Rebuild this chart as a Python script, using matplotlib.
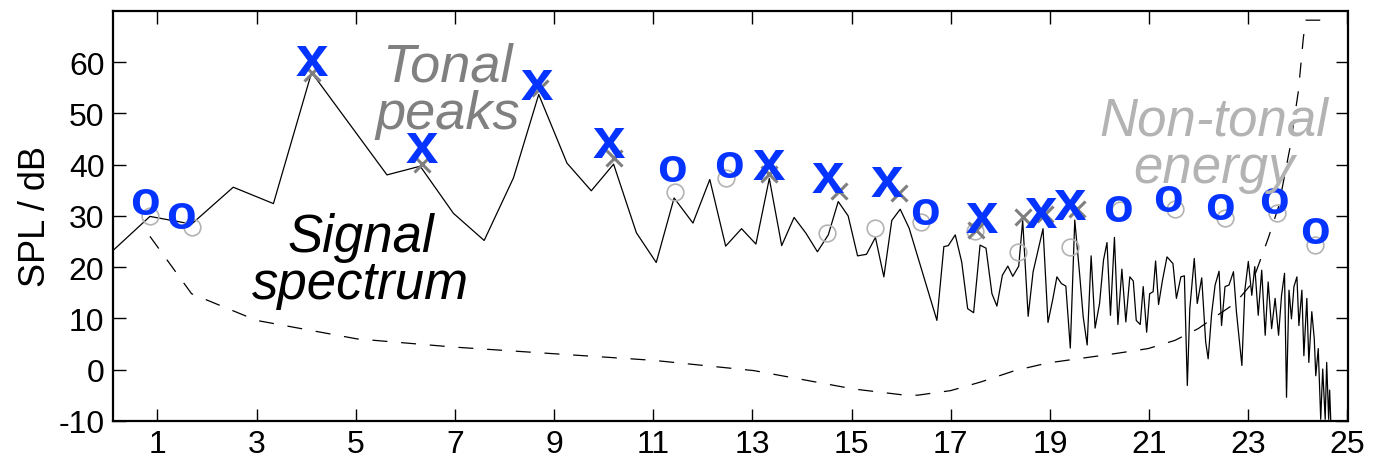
import matplotlib
matplotlib.use("Agg")
import matplotlib.pyplot as plt

plt.rcParams['font.family'] = ['Liberation Sans', 'DejaVu Sans']
plt.rcParams['axes.unicode_minus'] = False

# signal spectrum (kHz, dB)
spec_f = [0.10, 0.85, 1.69, 2.53, 3.34, 4.11, 5.63, 6.30, 6.97, 7.59, 8.18, 8.69,
          9.26, 9.75, 10.20, 10.66, 11.06, 11.42, 11.80, 12.14, 12.46, 12.78, 13.07,
          13.34, 13.59, 13.84, 14.08, 14.31, 14.53, 14.73, 14.93, 15.12, 15.30, 15.48,
          15.65, 15.81, 15.98, 16.16, 16.72, 16.86, 16.95, 17.09, 17.22, 17.34, 17.46,
          17.59, 17.71, 17.83, 17.93, 18.04, 18.15, 18.25, 18.37, 18.45, 18.56, 18.66,
          18.76, 18.86, 18.96, 19.06, 19.14, 19.23, 19.32, 19.41, 19.50, 19.60, 19.67,
          19.75, 19.83, 19.91, 20.00, 20.08, 20.15, 20.22, 20.30, 20.37, 20.45, 20.53,
          20.61, 20.68, 20.74, 20.82, 20.88, 20.95, 21.01, 21.08, 21.13, 21.19, 21.27,
          21.36, 21.48, 21.55, 21.64, 21.71, 21.77, 21.82, 21.91, 21.97, 22.06, 22.14,
          22.19, 22.26, 22.33, 22.41, 22.46, 22.53, 22.61, 22.70, 22.76, 22.87, 22.93,
          23.00, 23.07, 23.13, 23.20, 23.27, 23.34, 23.40, 23.47, 23.54, 23.61, 23.67,
          23.73, 23.77, 23.82, 23.87, 23.92, 23.98, 24.02, 24.08, 24.12, 24.18, 24.22,
          24.28, 24.33, 24.36, 24.41, 24.46, 24.50, 24.55, 24.58, 24.62, 24.64, 24.67]
spec_db = [23.2, 29.9, 28.4, 35.6, 32.4, 58.0, 38.0, 39.7, 30.5, 25.2, 37.4, 53.7,
           40.3, 34.9, 40.1, 26.7, 20.9, 33.5, 28.6, 37.1, 24.1, 27.5, 24.5,
           37.3, 24.2, 29.7, 26.6, 23.0, 26.3, 32.8, 30.0, 22.2, 22.5, 25.8,
           18.1, 29.1, 31.3, 27.6, 9.6, 24.0, 24.2, 26.3, 21.0, 11.9, 11.1,
           24.3, 23.7, 14.8, 12.4, 18.4, 20.2, 18.2, 20.2, 29.1, 10.4, 19.1,
           23.3, 27.5, 9.2, 13.9, 18.1, 16.8, 16.3, 4.2, 29.2, 18.4, 10.3,
           4.8, 22.2, 8.1, 12.9, 21.4, 24.8, 10.6, 25.8, 8.8, 19.6, 9.3,
           18.1, 17.3, 9.6, 8.8, 16.2, 7.3, 14.8, 15.2, 21.2, 12.7, 17.5,
           22.0, 20.7, 13.9, 18.1, 18.3, -3.1, 11.9, 21.7, 12.9, 17.9, 5.4,
           2.1, 10.9, 16.5, 19.2, 8.6, 16.2, 16.5, 19.1, 11.3, 0.8, 15.5,
           21.1, 14.5, 20.1, 10.6, 19.4, 6.7, 17.1, 8.0, 13.9, 6.7, 14.5,
           18.8, -5.4, 15.5, 9.9, 16.2, 18.1, 8.6, 15.5, 2.7, 13.9, 1.4,
           11.3, 6.0, -1.2, 4.1, -9.7, 0.1, -9.7, 1.4, -9.7, -4.0, -12.0]

# masking threshold (dashed)
thr_f = [0.85, 1.69, 3.00, 5.02, 6.97, 8.99, 11.01, 13.03, 15.05, 16.00, 16.33, 17.00,
         17.61, 18.29, 18.96, 19.63, 20.30, 20.98, 21.52, 21.99, 22.33, 22.73, 23.07,
         23.40, 23.61, 23.84, 24.01, 24.11, 24.16, 24.45]
thr_db = [26.0, 14.8, 9.6, 6.0, 4.4, 3.1, 1.8, -0.2, -3.8, -4.9, -5.0, -4.1,
          -2.4, -0.2, 1.3, 2.2, 3.1, 4.1, 5.7, 8.0, 10.3, 12.9, 16.8,
          25.6, 31.8, 43.3, 54.4, 64.8, 68.2, 68.2]

# all tonal / non-tonal candidates (grey)
tonal_f = [4.11, 6.33, 8.72, 10.20, 13.34, 14.74, 15.96, 17.51, 18.45, 18.90, 19.54]
tonal_db = [57.8, 40.2, 55.0, 41.3, 38.2, 34.8, 34.4, 27.3, 29.7, 30.3, 31.3]
noise_f = [0.85, 1.69, 11.43, 12.46, 14.51, 15.48, 16.40, 17.48, 18.35, 19.40,
           20.41, 21.52, 22.53, 23.57, 24.35]
noise_db = [29.9, 27.9, 34.6, 37.3, 26.6, 27.6, 28.8, 27.0, 23.0, 23.9,
            31.2, 31.3, 29.6, 30.5, 24.3]

# retained maskers (blue labels)
kept_tonal_f = [4.12, 6.33, 8.66, 10.10, 13.34, 14.53, 15.71, 17.63, 18.82, 19.41]
kept_tonal_db = [59.6, 42.6, 55.0, 43.6, 39.4, 36.7, 36.1, 28.9, 29.9, 31.5]
kept_noise_f = [0.74, 1.48, 11.38, 12.53, 16.47, 20.37, 21.38, 22.43, 23.52, 24.35]
kept_noise_db = [32.2, 29.5, 38.7, 39.4, 30.2, 30.9, 32.8, 31.2, 32.5, 26.6]

blue = '#0533ff'

fig, ax = plt.subplots(figsize=(13.75, 4.6), dpi=100)
fig.subplots_adjust(left=0.082, right=0.980, bottom=0.083, top=0.974)

ax.plot(spec_f, spec_db, color='black', lw=0.9)
ax.plot(thr_f, thr_db, color='black', lw=0.9, dashes=[12, 11])
ax.plot(noise_f, noise_db, 'o', ms=12, mfc='none', mec='#b3b3b3', mew=1.2)
ax.plot(tonal_f, tonal_db, 'x', ms=12, color='#7f7f7f', mew=2.2)

# glyph centre sits a bit below the text box centre, so lift slightly
for f, d in zip(kept_tonal_f, kept_tonal_db):
    ax.text(f, d + 0.8, 'x', color=blue, fontsize=42, fontweight='bold',
            ha='center', va='center')
for f, d in zip(kept_noise_f, kept_noise_db):
    ax.text(f, d + 0.6, 'o', color=blue, fontsize=35, fontweight='bold',
            ha='center', va='center')

ax.text(6.85, 54.5, 'Tonal\npeaks', color='#808080', fontsize=39, style='italic',
        ha='center', va='center', linespacing=0.92)
ax.text(5.1, 21.3, 'Signal\nspectrum', color='black', fontsize=38, style='italic',
        ha='center', va='center', linespacing=0.92)
ax.text(22.3, 44, 'Non-tonal\nenergy', color='#b3b3b3', fontsize=38, style='italic',
        ha='center', va='center', linespacing=0.92)

ax.set_xlim(0.1, 25)
ax.set_ylim(-10, 70)
ax.set_xticks(range(1, 26, 2))
ax.set_yticks(range(-10, 61, 10))
ax.tick_params(direction='in', length=9, width=1, labelsize=23,
               top=True, right=True, pad=6)
for s in ax.spines.values():
    s.set_linewidth(1.6)
ax.set_ylabel('SPL / dB', fontsize=26, labelpad=4)

plt.savefig('out.png', dpi=100)
